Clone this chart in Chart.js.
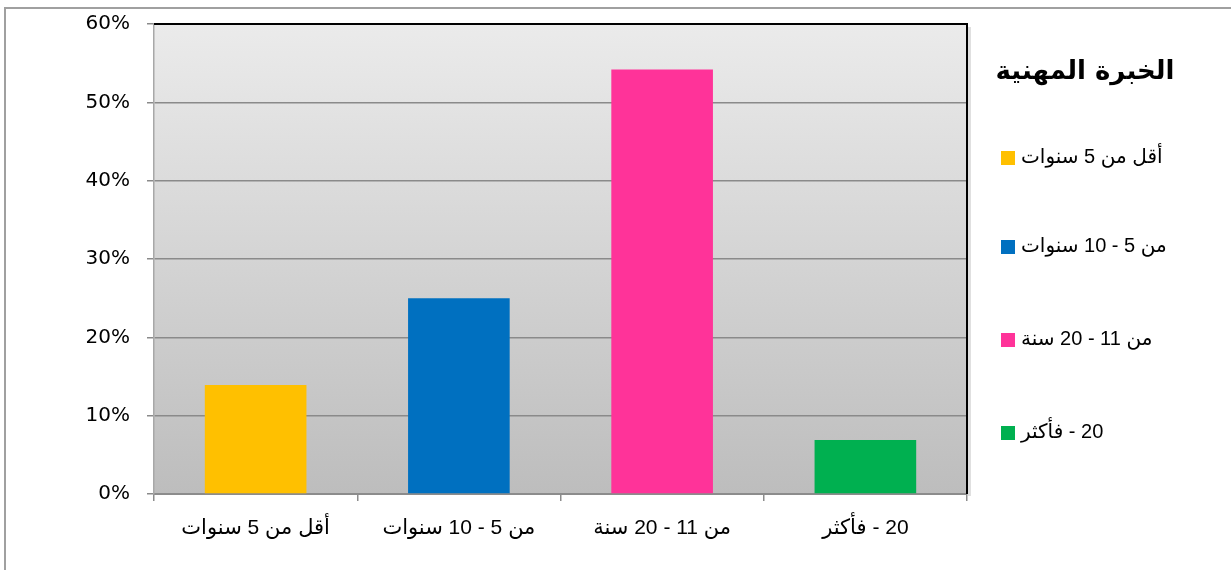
<!DOCTYPE html>
<html>
<head>
<meta charset="utf-8">
<script src="https://cdn.jsdelivr.net/npm/chart.js@4/dist/chart.umd.min.js"></script>
<style>
  html, body { margin: 0; padding: 0; background: #fff; }
  #wrap { width: 1231px; height: 570px; position: relative; }
  #myChart { direction: rtl; }
</style>
</head>
<body>
<div id="wrap"><canvas id="myChart" dir="rtl"></canvas></div>
<script>
// DATA
const categories = ['أقل من 5 سنوات', 'من 5 - 10 سنوات', 'من 11 - 20 سنة', '20 - فأكثر'];
const values = [13.9, 25, 54.2, 6.9];
const barColors = ['#FFC000', '#0070C0', '#FF3399', '#00B050'];
const legendTitle = 'الخبرة المهنية';
const yMax = 60;
const yStep = 10;

const labelFont = 'Liberation Sans, Arial, DejaVu Sans, sans-serif';

// background gradient + frame of the plot area
const plotBg = {
  id: 'plotBg',
  beforeDraw(chart) {
    const c = chart.ctx, a = chart.chartArea;
    c.save();
    // outer frame
    c.strokeStyle = '#a0a0a0';
    c.lineWidth = 2;
    c.strokeRect(5, 8, 1240, 600);
    const g = c.createLinearGradient(0, a.top, 0, a.bottom);
    g.addColorStop(0, '#ebebeb');
    g.addColorStop(1, '#bdbdbd');
    c.fillStyle = g;
    c.fillRect(a.left, a.top, a.right - a.left, a.bottom - a.top);
    c.restore();
  },
  afterDatasetsDraw(chart) {
    const c = chart.ctx, a = chart.chartArea;
    c.save();
    // soft shadow
    c.strokeStyle = 'rgba(0,0,0,0.12)';
    c.lineWidth = 3;
    c.beginPath();
    c.moveTo(a.right + 2.5, a.top + 3);
    c.lineTo(a.right + 2.5, a.bottom + 2);
    c.stroke();
    c.strokeStyle = '#000';
    c.lineWidth = 2;
    c.beginPath();
    c.moveTo(a.left, a.top);
    c.lineTo(a.right, a.top);
    c.lineTo(a.right, a.bottom);
    c.stroke();
    c.restore();
  }
};

// legend on the right
const sideLegend = {
  id: 'sideLegend',
  afterDraw(chart) {
    const c = chart.ctx;
    c.save();
    c.direction = 'rtl';
    c.fillStyle = '#000';
    c.textBaseline = 'middle';
    c.font = 'bold 26px DejaVu Sans, sans-serif';
    c.textAlign = 'center';
    c.fillText(legendTitle, 1085, 72);
    c.font = '20px ' + labelFont;
    c.textAlign = 'left';
    const rows = [157, 246, 339, 432];
    categories.forEach((cat, i) => {
      c.fillStyle = barColors[i];
      c.fillRect(1001, rows[i] - 6, 14, 14);
      c.fillStyle = '#000';
      c.fillText(cat, 1021, rows[i]);
    });
    c.restore();
  }
};

const ctx = document.getElementById('myChart');
const myChart = new Chart(ctx, {
  type: 'bar',
  data: {
    labels: categories,
    datasets: [{
      data: values,
      backgroundColor: barColors,
      borderWidth: 0,
      barPercentage: 0.5,
      categoryPercentage: 1
    }]
  },
  options: {
    responsive: true,
    maintainAspectRatio: false,
    animation: false,
    layout: { padding: { left: 0, top: 24, right: 264, bottom: 0 } },
    plugins: {
      legend: { display: false },
      tooltip: { enabled: false }
    },
    scales: {
      x: {
        afterFit(scale) { scale.height = 76; },
        grid: { drawOnChartArea: false, drawTicks: true, tickLength: 7, color: '#8c8c8c', lineWidth: 1.5 },
        border: { color: '#8c8c8c', width: 2 },
        ticks: { color: '#000', padding: 15, font: { size: 21, family: labelFont } }
      },
      y: {
        min: 0,
        max: yMax,
        afterFit(scale) {
          scale.width = 154;
          scale.paddingTop = 0;
          scale.paddingBottom = 0;
        },
        grid: { color: '#8a8a8a', lineWidth: 1.5, tickLength: 7 },
        border: { color: '#a8a8a8', width: 1.5 },
        ticks: {
          stepSize: yStep,
          color: '#000',
          padding: 17,
          font: { size: 20, family: 'DejaVu Sans, sans-serif' },
          callback: v => v + '%'
        }
      }
    }
  },
  plugins: [plotBg, sideLegend]
});
</script>
</body>
</html>
